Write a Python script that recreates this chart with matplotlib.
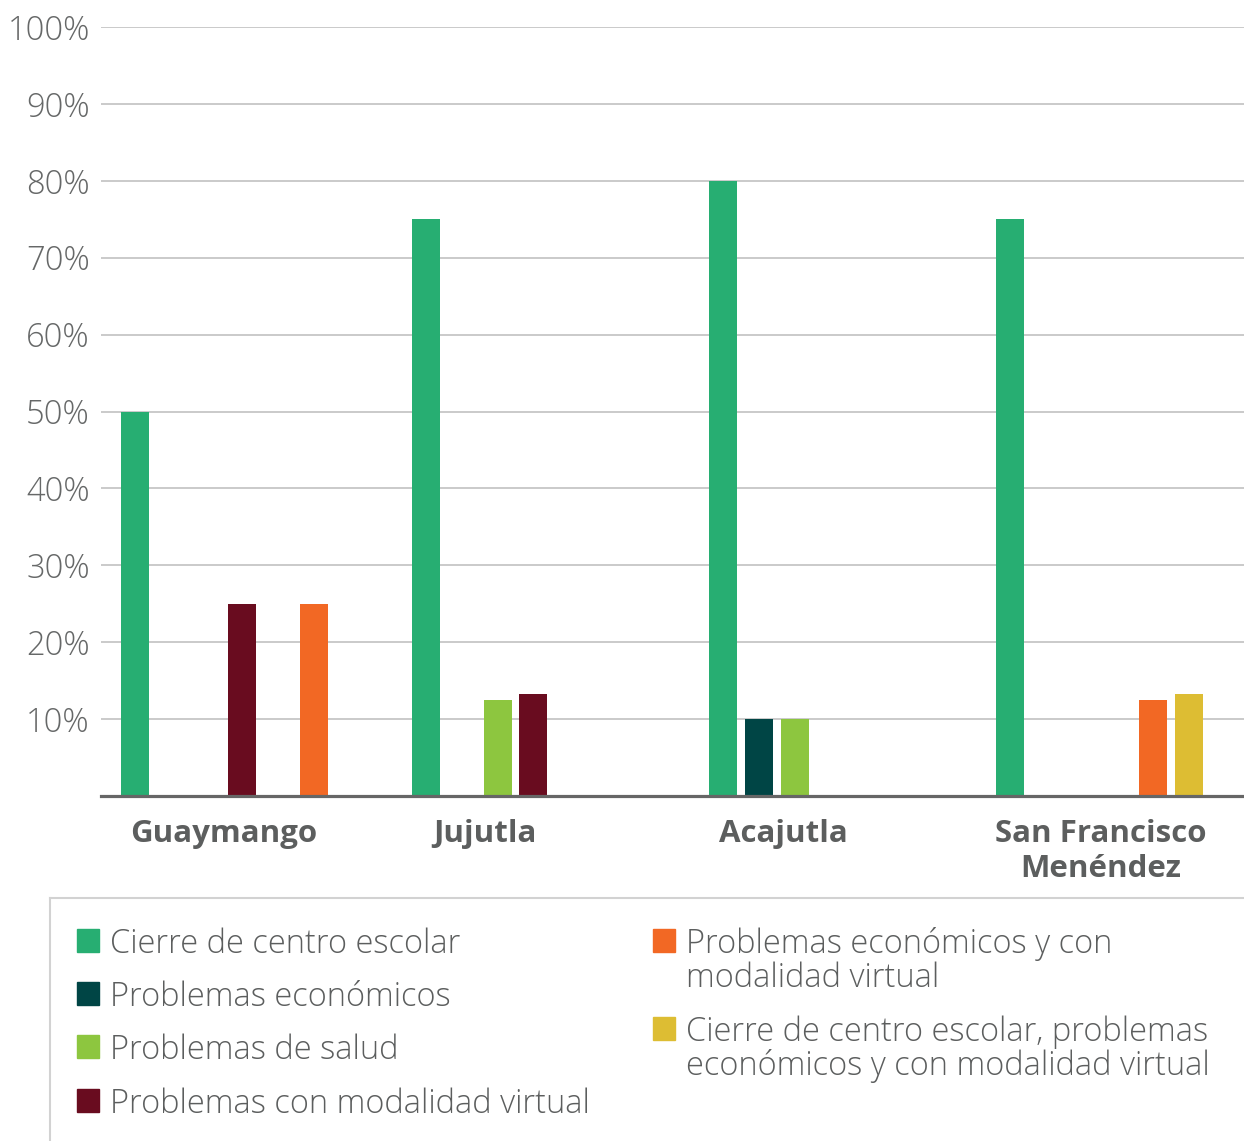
import matplotlib
matplotlib.use("Agg")
import matplotlib.pyplot as plt
from matplotlib.patches import Rectangle
from matplotlib.lines import Line2D

# ---------------- data ----------------
groups = ["Guaymango", "Jujutla", "Acajutla", "San Francisco\nMenéndez"]
series = [
    "Cierre de centro escolar",
    "Problemas económicos",
    "Problemas de salud",
    "Problemas con modalidad virtual",
    "Problemas económicos y con\nmodalidad virtual",
    "Cierre de centro escolar, problemas\neconómicos y con modalidad virtual",
]
cierre = [50, 75, 80, 75]
economicos = [0, 0, 10, 0]
salud = [0, 12.5, 10, 0]
virtual = [25, 13.3, 0, 0]
econ_virtual = [25, 0, 0, 12.5]
cierre_econ_virtual = [0, 0, 0, 13.3]
values = [cierre, economicos, salud, virtual, econ_virtual, cierre_econ_virtual]
yticks = [10, 20, 30, 40, 50, 60, 70, 80, 90, 100]
ytick_labels = [f"{t}%" for t in yticks]

# ---------------- style / layout ----------------
colors = ["#27AE72", "#004545", "#8DC63F", "#690C1F", "#F26824", "#DDBD33"]
W, H = 1244, 1141
group_start = [121, 412, 709, 996]          # left edge of first slot (px units)
slot_order = [[0, 1, 2, 3, 5, 4], [0, 1, 2, 3, 4, 5],
              [0, 1, 2, 3, 4, 5], [0, 1, 2, 3, 4, 5]]
slot_step = 35.8
bar_w = 28
label_x = [224, 485, 783, 1101]
FONT = "Open Sans"
txt_col = "#5c5e5e"
LIGHT = 300

fig = plt.figure(figsize=(W / 100, H / 100), dpi=100)
ax = fig.add_axes([101 / W, 1 - 796 / H, 1 - 101 / W, (796 - 27) / H])
ax.set_xlim(101, W)
ax.set_ylim(0, 100)

for gi in range(len(groups)):
    for slot, si in enumerate(slot_order[gi]):
        v = values[si][gi]
        if v > 0:
            ax.bar(group_start[gi] + slot * slot_step, v, width=bar_w,
                   align="edge", color=colors[si], zorder=3, linewidth=0)

ax.set_yticks(yticks)
ax.set_yticklabels(ytick_labels, fontfamily=FONT, fontweight=LIGHT,
                   fontsize=23.5, color="#666868")
ax.tick_params(axis="y", length=0, pad=8)
ax.set_xticks([])
ax.grid(axis="y", color="#c6c6c6", linewidth=1.3, zorder=0)
for s in ["top", "right", "left"]:
    ax.spines[s].set_visible(False)
ax.spines["bottom"].set_color("#666666")
ax.spines["bottom"].set_linewidth(2.3)
ax.spines["bottom"].set_zorder(4)

for gi, g in enumerate(groups):
    for li, line in enumerate(g.split("\n")):
        fig.text(label_x[gi] / W, 1 - (842 + li * 35) / H, line,
                 ha="center", va="baseline", fontfamily=FONT, fontweight="bold",
                 fontsize=22.5, color=txt_col)

# legend box (top and left edges visible)
fig.add_artist(Line2D([50 / W, 1], [1 - 898 / H, 1 - 898 / H],
                      transform=fig.transFigure, color="#d2d2d2", linewidth=1.5))
fig.add_artist(Line2D([50 / W, 50 / W], [1 - 898 / H, 0],
                      transform=fig.transFigure, color="#d2d2d2", linewidth=1.5))

# manual legend
left_base = [953, 1006, 1059, 1113]
right_base = [953, 1041]
entries = [(77, b) for b in left_base] + [(653, b) for b in right_base]
for si, (mx, by) in enumerate(entries):
    fig.add_artist(Rectangle((mx / W, 1 - (by - 1) / H), 22 / W, 23 / H,
                             transform=fig.transFigure, color=colors[si]))
    for li, line in enumerate(series[si].split("\n")):
        fig.text((mx + 33) / W, 1 - (by + li * 34) / H, line, ha="left",
                 va="baseline", fontfamily=FONT, fontweight=LIGHT,
                 fontsize=23.5, color=txt_col)

fig.savefig("out.png", dpi=100)
